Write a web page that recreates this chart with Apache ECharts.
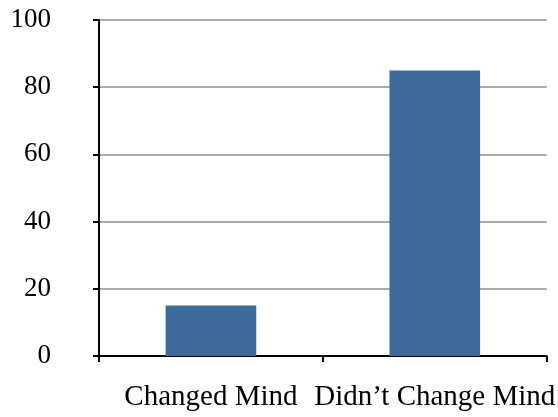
<!DOCTYPE html>
<html lang="en">
<head>
  <meta charset="UTF-8">
  <script src="https://cdn.jsdelivr.net/npm/echarts@6/dist/echarts.min.js"></script>
  <title>Changed Mind</title>
  <style>
    * { margin: 0; padding: 0; }
    html, body { width: 100%; height: 100%; background: #fff; }
    #chartbox { width: 558px; height: 417px; }
  </style>
</head>
<body>
<div id="chartbox"></div>
<script>
  // data
  const categories = ['Changed Mind', 'Didn\u2019t Change Mind'];
  const values = [15, 85];

  const myChart = echarts.init(document.getElementById('chartbox'));
  const font = '"Liberation Serif", "Times New Roman", serif';

  const option = {
    backgroundColor: '#fff',
    animation: false,
    grid: { left: 99, right: 10, top: 20, bottom: 61 },
    xAxis: {
      type: 'category',
      data: categories,
      axisLine: { lineStyle: { color: '#000', width: 2 } },
      axisTick: { show: true, length: 6, lineStyle: { color: '#000', width: 2 } },
      axisLabel: { color: '#000', fontFamily: font, fontSize: 29, margin: 27, interval: 0 }
    },
    yAxis: {
      type: 'value',
      min: 0,
      max: 100,
      interval: 20,
      axisLine: { show: true, lineStyle: { color: '#000', width: 2 } },
      axisTick: { show: true, length: 6, lineStyle: { color: '#000', width: 2 } },
      axisLabel: { color: '#000', fontFamily: font, fontSize: 27, margin: 48 },
      splitLine: { lineStyle: { color: '#aaa', width: 2 } }
    },
    series: [{
      type: 'bar',
      data: values,
      barWidth: '40.5%',
      itemStyle: { color: '#3c6b9b' }
    }]
  };
  myChart.setOption(option);
</script>
</body>
</html>
